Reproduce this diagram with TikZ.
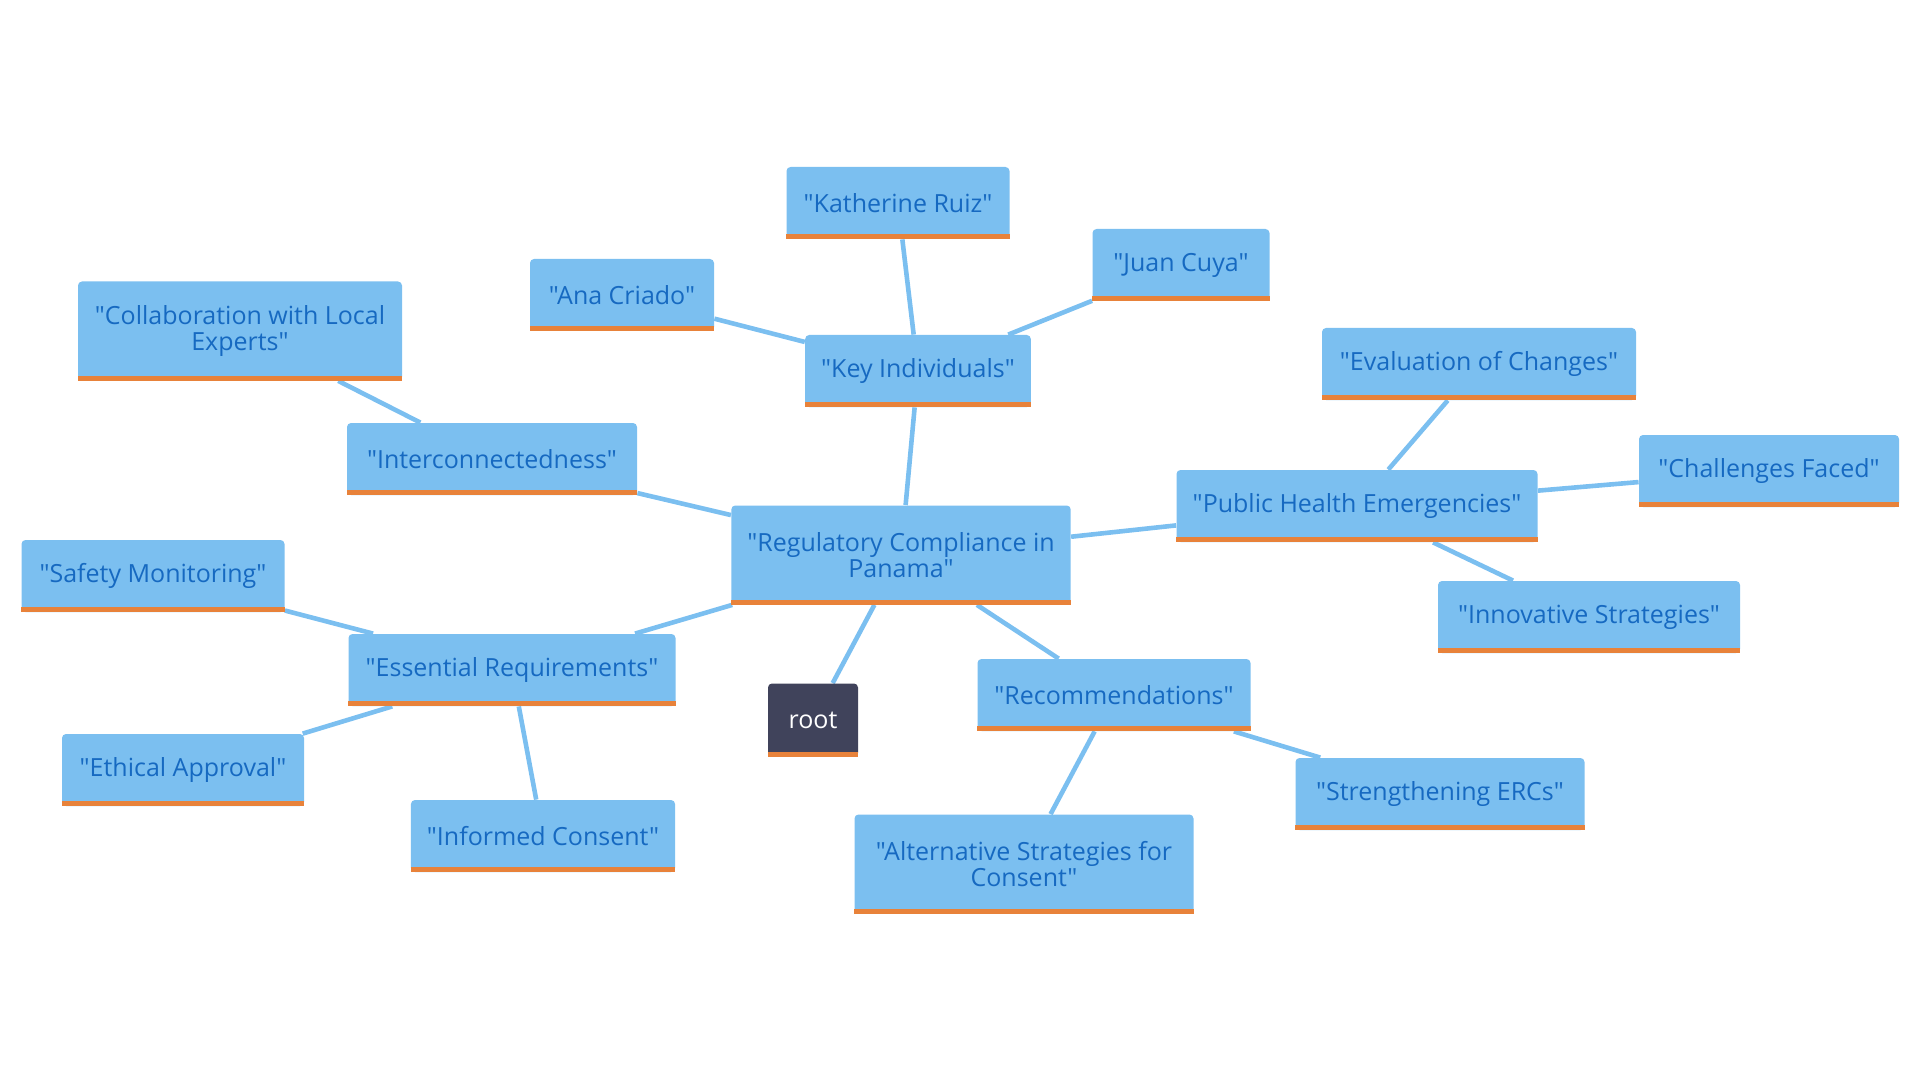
\documentclass[tikz,border=0pt]{standalone}
\usepackage{fontspec}
\setmainfont{Open Sans}[Ligatures=TeXOff]
\usetikzlibrary{backgrounds}
\definecolor{boxblue}{HTML}{7BBFF0}
\definecolor{textblue}{HTML}{1669C1}
\definecolor{barorange}{HTML}{E8823A}
\definecolor{rootgrey}{HTML}{40435B}
\definecolor{linkblue}{HTML}{7BBFF0}

\begin{document}
\begin{tikzpicture}[x=0.5pt,y=-0.5pt,
  font=\fontsize{12.5}{13.3}\selectfont,
  topic/.style={fill=boxblue,text=textblue,rounded corners=2pt,
    minimum height=36pt,inner xsep=8pt,align=center},
  tall/.style={topic,minimum height=49.5pt},
  rootbox/.style={topic,fill=rootgrey,text=white},
  link/.style={linkblue,line width=2.3pt},
]
\useasboundingbox (0,0) rectangle (1920,1080);

% centre and root
\node[tall,minimum width=169.5pt] (main) at (901,555) {"Regulatory Compliance in\\Panama"};
\node[rootbox,minimum width=45pt,minimum height=36.5pt] (root) at (813,720) {root};

% key individuals
\node[topic,minimum width=110.5pt] (key) at (918,371) {"Key Individuals"};
\node[topic,minimum width=111.5pt] (kath) at (898,203) {"Katherine Ruiz"};
\node[topic,minimum width=88.5pt] (juan) at (1181,265) {"Juan Cuya"};
\node[topic,minimum width=92pt] (ana) at (622,295) {"Ana Criado"};

% interconnectedness
\node[topic,minimum width=145pt] (inter) at (492,459) {"Interconnectedness"};
\node[tall,minimum width=162pt] (collab) at (240,331) {"Collaboration with Local\\Experts"};

% essential requirements
\node[topic,minimum width=163.5pt] (essential) at (512,670) {"Essential Requirements"};
\node[topic,minimum width=131.5pt] (safety) at (153,576) {"Safety Monitoring"};
\node[topic,minimum width=121pt] (ethical) at (183,770) {"Ethical Approval"};
\node[topic,minimum width=132pt] (informed) at (543,836) {"Informed Consent"};

% recommendations
\node[topic,minimum width=136.5pt] (recomm) at (1114,695) {"Recommendations"};
\node[topic,minimum width=144.5pt] (strength) at (1440,794) {"Strengthening ERCs"};
\node[tall,minimum width=169.5pt] (altern) at (1024,864) {"Alternative Strategies for\\Consent"};

% public health emergencies
\node[topic,minimum width=180.5pt] (public) at (1357,506) {"Public Health Emergencies"};
\node[topic,minimum width=157pt] (evalc) at (1479,364) {"Evaluation of Changes"};
\node[topic,minimum width=130pt] (challenges) at (1769,471) {"Challenges Faced"};
\node[topic,minimum width=151pt] (innov) at (1589,617) {"Innovative Strategies"};

% orange bars under the boxes
\foreach \n in {main,root,key,kath,juan,ana,inter,collab,essential,safety,
                ethical,informed,recomm,strength,altern,public,evalc,challenges,innov}
  \fill[barorange] (\n.south west) rectangle ([yshift=2.5pt]\n.south east);

\begin{scope}[on background layer]
\draw[link] (main) -- (root);
\draw[link] (main) -- (key);
\draw[link] (key) -- (kath);
\draw[link] (key) -- (juan);
\draw[link] (key) -- (ana);
\draw[link] (main) -- (inter);
\draw[link] (inter) -- (collab);
\draw[link] (main) -- (essential);
\draw[link] (essential) -- (safety);
\draw[link] (essential) -- (ethical);
\draw[link] (essential) -- (informed);
\draw[link] (main) -- (recomm);
\draw[link] (recomm) -- (strength);
\draw[link] (recomm) -- (altern);
\draw[link] (main) -- (public);
\draw[link] (public) -- (evalc);
\draw[link] (public) -- (challenges);
\draw[link] (public) -- (innov);
\end{scope}
\end{tikzpicture}
\end{document}
